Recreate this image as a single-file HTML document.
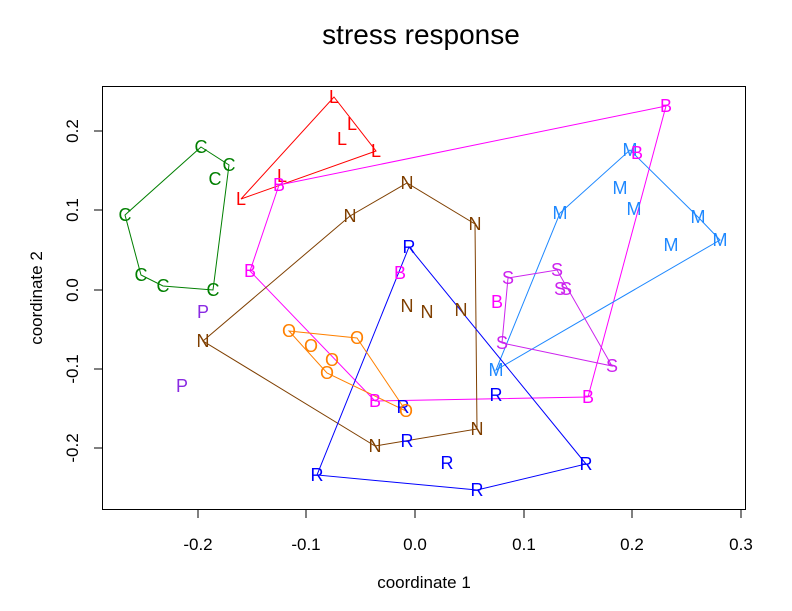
<!DOCTYPE html>
<html><head><style>body{margin:0;background:#fff}svg{display:block}text{font-family:"Liberation Sans",Arial,sans-serif}</style></head><body>
<svg width="792" height="611" viewBox="0 0 792 611" xmlns="http://www.w3.org/2000/svg">
<rect width="792" height="611" fill="#fff"/>
<text x="421" y="44" font-size="28" text-anchor="middle">stress response</text>
<rect x="102.5" y="86.5" width="643" height="423" fill="none" stroke="#000"/>
<g stroke="#000">
<line x1="198" y1="510" x2="198" y2="518"/><line x1="306" y1="510" x2="306" y2="518"/><line x1="415" y1="510" x2="415" y2="518"/><line x1="524" y1="510" x2="524" y2="518"/><line x1="632" y1="510" x2="632" y2="518"/><line x1="741" y1="510" x2="741" y2="518"/>
<line x1="94" y1="131" x2="102" y2="131"/><line x1="94" y1="210" x2="102" y2="210"/><line x1="94" y1="290" x2="102" y2="290"/><line x1="94" y1="369" x2="102" y2="369"/><line x1="94" y1="448" x2="102" y2="448"/>
</g>
<g font-size="17" text-anchor="middle">
<text x="198" y="550">-0.2</text><text x="306" y="550">-0.1</text><text x="415" y="550">0.0</text><text x="524" y="550">0.1</text><text x="632" y="550">0.2</text><text x="741" y="550">0.3</text>
<text transform="translate(78,131) rotate(-90)">0.2</text><text transform="translate(78,210) rotate(-90)">0.1</text><text transform="translate(78,290) rotate(-90)">0.0</text><text transform="translate(78,369) rotate(-90)">-0.1</text><text transform="translate(78,448) rotate(-90)">-0.2</text>
<text x="424" y="588">coordinate 1</text>
<text transform="translate(42,298) rotate(-90)">coordinate 2</text>
</g>
<g fill="none" stroke-width="1">
<polygon stroke="#007f00" points="201,147 229,165 213,290 163,286 141,275 125,215"/>
<polygon stroke="#ff0000" points="334,97 376,151 241,199"/>
<polygon stroke="#ff00ff" points="279,185 666,106 588,397 375,401 250,271"/>
<polygon stroke="#1e88ff" points="496,370 560,213 630,150 698,217 720,240"/>
<polygon stroke="#cc22ee" points="508,278 557,270 612,366 502,343"/>
<polygon stroke="#7f3f00" points="203,341 350,216 407,183 475,224 477,429 375,446"/>
<polygon stroke="#0000ff" points="409,247 586,464 477,490 317,475"/>
<polygon stroke="#ff8000" points="289,331 357,338 406,411 327,373"/>
</g>
<g font-size="18" text-anchor="middle" dominant-baseline="central">
<g fill="#007f00"><text x="201" y="147">C</text><text x="229" y="165">C</text><text x="215" y="179">C</text><text x="125" y="215">C</text><text x="141" y="275">C</text><text x="163" y="286">C</text><text x="213" y="290">C</text></g>
<g fill="#ff0000"><text x="334" y="97">L</text><text x="352" y="124">L</text><text x="342" y="139">L</text><text x="376" y="151">L</text><text x="241" y="199">L</text><text x="282" y="176">L</text></g>
<g fill="#1e88ff"><text x="630" y="150">M</text><text x="560" y="213">M</text><text x="620" y="188">M</text><text x="634" y="209">M</text><text x="698" y="217">M</text><text x="720" y="240">M</text><text x="671" y="245">M</text><text x="496" y="370">M</text></g>
<g fill="#ff00ff"><text x="666" y="106">B</text><text x="637" y="153">B</text><text x="279" y="185">B</text><text x="250" y="271">B</text><text x="400" y="273">B</text><text x="497" y="302">B</text><text x="375" y="401">B</text><text x="588" y="397">B</text></g>
<g fill="#cc22ee"><text x="508" y="278">S</text><text x="557" y="270">S</text><text x="560" y="289">S</text><text x="566" y="289">S</text><text x="502" y="343">S</text><text x="612" y="366">S</text></g>
<g fill="#7f3f00"><text x="407" y="183">N</text><text x="350" y="216">N</text><text x="475" y="224">N</text><text x="203" y="341">N</text><text x="407" y="306">N</text><text x="427" y="312">N</text><text x="461" y="310">N</text><text x="375" y="446">N</text><text x="477" y="429">N</text></g>
<g fill="#0000ff"><text x="409" y="247">R</text><text x="403" y="407">R</text><text x="496" y="395">R</text><text x="407" y="441">R</text><text x="447" y="463">R</text><text x="317" y="475">R</text><text x="477" y="490">R</text><text x="586" y="464">R</text></g>
<g fill="#ff8000"><text x="289" y="331">O</text><text x="311" y="346">O</text><text x="332" y="360">O</text><text x="327" y="373">O</text><text x="357" y="338">O</text><text x="406" y="411">O</text></g>
<g fill="#8a2be2"><text x="203" y="312">P</text><text x="182" y="386">P</text></g>
</g>
</svg>
</body></html>
